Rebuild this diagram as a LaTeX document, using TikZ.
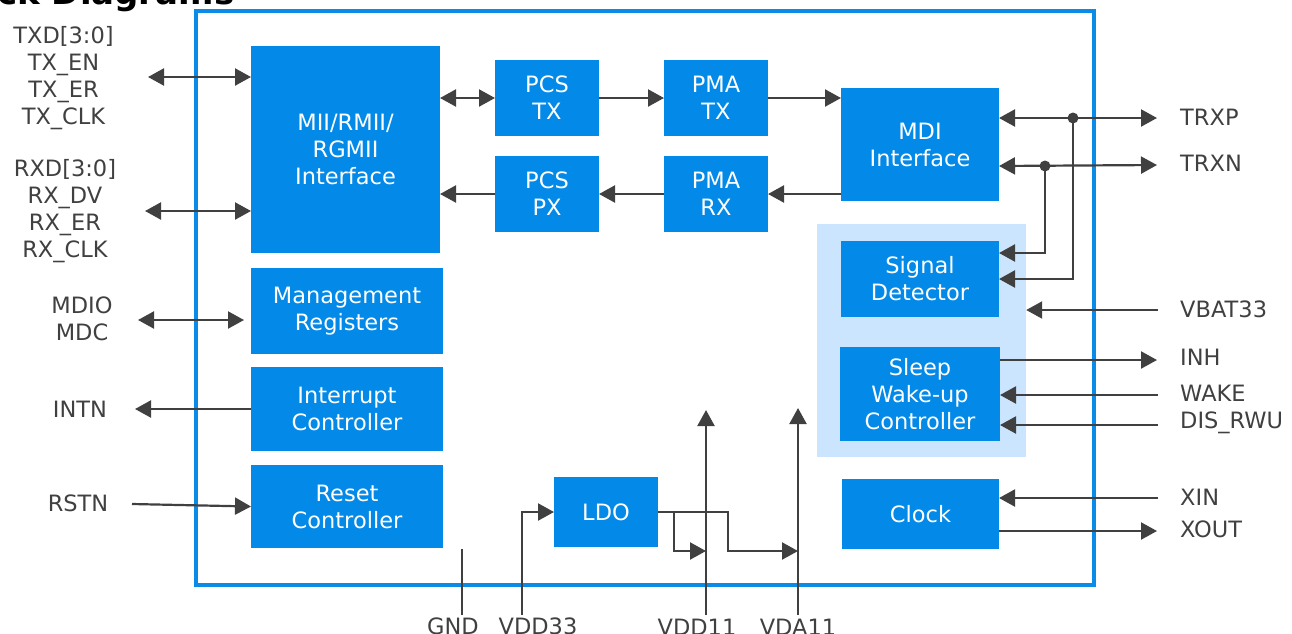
\documentclass[tikz,border=0pt]{standalone}
\usepackage{fontspec}
\setmainfont{DejaVu Sans}
\usetikzlibrary{arrows.meta}
\definecolor{blk}{HTML}{0389E8}
\definecolor{frame}{HTML}{0A8BE8}
\definecolor{lite}{HTML}{CCE5FF}
\definecolor{ln}{HTML}{404040}
\tikzset{
  blkbox/.style={fill=blk, draw=none, inner sep=0pt, outer sep=0pt, text=white, align=center,
    font=\fontsize{22.5}{27}\selectfont},
  lbl/.style={text=ln, align=center, inner sep=0pt, font=\fontsize{22.5}{27}\selectfont},
  wire/.style={draw=ln, line width=2.2pt},
  arr/.style={wire, -{Triangle[length=16pt,width=17pt]}},
  biarr/.style={wire, {Triangle[length=16pt,width=17pt]}-{Triangle[length=16pt,width=17pt]}},
}
\begin{document}
\begin{tikzpicture}[x=1pt,y=-1pt]
\useasboundingbox (0,0) rectangle (1292,633);
\clip (0,0) rectangle (1292,633);
% title
\node[anchor=base west, inner sep=0pt, font=\fontsize{34}{38}\bfseries\selectfont] (title) at (-3,4) {ck Diagrams};
% frame
\draw[frame, line width=4pt] (196,11) rectangle (1094,585);
% light region
\node[fill=lite, draw=none, inner sep=0pt, minimum width=209pt, minimum height=233pt] (light) at (921.5,340.5) {};
% blocks
\node[blkbox, minimum width=189pt, minimum height=207pt] (mii) at (345.5,149.5) {MII/RMII/\\RGMII\\Interface};
\node[blkbox, minimum width=192pt, minimum height=86pt] (mgmt) at (347,311) {Management\\Registers};
\node[blkbox, minimum width=192pt, minimum height=84pt] (intc) at (347,409) {Interrupt\\Controller};
\node[blkbox, minimum width=192pt, minimum height=83pt] (rstc) at (347,506.5) {Reset\\Controller};
\node[blkbox, minimum width=104pt, minimum height=76pt] (pcstx) at (547,98) {PCS\\TX};
\node[blkbox, minimum width=104pt, minimum height=76pt] (pcsrx) at (547,194) {PCS\\PX};
\node[blkbox, minimum width=104pt, minimum height=76pt] (pmatx) at (716,98) {PMA\\TX};
\node[blkbox, minimum width=104pt, minimum height=76pt] (pmarx) at (716,194) {PMA\\RX};
\node[blkbox, minimum width=158pt, minimum height=113pt] (mdi) at (920,144.5) {MDI\\Interface};
\node[blkbox, minimum width=158pt, minimum height=76pt] (sig) at (920,279) {Signal\\Detector};
\node[blkbox, minimum width=160pt, minimum height=94pt] (sleep) at (920,394) {Sleep\\Wake-up\\Controller};
\node[blkbox, minimum width=157pt, minimum height=70pt] (clock) at (920.5,514) {Clock};
\node[blkbox, minimum width=104pt, minimum height=70pt] (ldo) at (606,512) {LDO};
% left labels
\node[lbl] (ltx) at (63.5,78) {TXD[3:0]\\TX\_EN\\TX\_ER\\TX\_CLK};
\node[lbl] (lrx) at (65,211) {RXD[3:0]\\RX\_DV\\RX\_ER\\RX\_CLK};
\node[lbl] (lmd) at (82,319) {MDIO\\MDC};
\node[lbl] (lint) at (80,409) {INTN};
\node[lbl] (lrst) at (78,503) {RSTN};
% right labels
\node[lbl, anchor=west] (ltrxp) at (1180,117) {TRXP};
\node[lbl, anchor=west] (ltrxn) at (1180,163) {TRXN};
\node[lbl, anchor=west] (lvbat) at (1180,309) {VBAT33};
\node[lbl, anchor=west] (linh) at (1180,357) {INH};
\node[lbl, anchor=west] (lwake) at (1180,393) {WAKE};
\node[lbl, anchor=west] (ldis) at (1180,423) {DIS\_RWU};
\node[lbl, anchor=west] (lxin) at (1180,497) {XIN};
\node[lbl, anchor=west] (lxout) at (1180,529) {XOUT};
% bottom labels
\node[lbl, anchor=base] (lgnd) at (453,634) {GND};
\node[lbl, anchor=base] (lv33) at (538,634) {VDD33};
\node[lbl, anchor=base] (lv11) at (697,635) {VDD11};
\node[lbl, anchor=base] (lva11) at (798,635) {VDA11};
% coordinates
\coordinate (txl) at (148,77);
\coordinate (rxl) at (145,211);
\coordinate (mdl) at (138,320);
\coordinate (mdr) at (244,320);
\coordinate (intl) at (135,409);
\coordinate (rsl) at (132,504);
\coordinate (trxp) at (1157,118);
\coordinate (dp) at (1073,118);
\coordinate (trxn) at (1157,165);
\coordinate (dn) at (1045,166);
\coordinate (vb) at (1158,310);
\coordinate (inh) at (1157,360);
\coordinate (wk) at (1158,395);
\coordinate (dis) at (1158,425);
\coordinate (xin) at (1158,498);
\coordinate (xout) at (1157,531);
\coordinate (gndb) at (462,615);
\coordinate (gndt) at (462,549);
\coordinate (v33) at (522,615);
\coordinate (v11b) at (706,615);
\coordinate (v11t) at (706,410);
\coordinate (va11b) at (798,615);
\coordinate (va11t) at (798,408);
\coordinate (ja) at (674,512);
\coordinate (jb) at (728,512);
% left connectors
\draw[biarr] (txl) -- (txl -| mii.west);
\draw[biarr] (rxl) -- (rxl -| mii.west);
\draw[biarr] (mdl) -- (mdr);
\draw[arr] (intc.west) -- (intl);
\draw[arr] (rsl) -- (rstc.west);
% datapath
\draw[biarr] (pcstx.west -| mii.east) -- (pcstx.west);
\draw[arr] (pcstx) -- (pmatx);
\draw[arr] (pmatx.east) -- (pmatx.east -| mdi.west);
\draw[arr] (mdi.west |- pmarx) -- (pmarx.east);
\draw[arr] (pmarx) -- (pcsrx);
\draw[arr] (pcsrx.west) -- (pcsrx.west -| mii.east);
% TRX
\draw[biarr] (mdi.east |- trxp) -- (trxp);
\draw[biarr] (mdi.east |- dn) -- (trxn);
\draw[arr] (dp) |- (sig.east);
\draw[arr] (dn) |- ([yshift=26pt]sig.east);
\fill[ln] (dp) circle (5.5);
\fill[ln] (dn) circle (5.5);
% right side
\draw[arr] (vb) -- (vb -| light.east);
\draw[arr] (sleep.east |- inh) -- (inh);
\draw[arr] (wk) -- (wk -| sleep.east);
\draw[arr] (dis) -- (dis -| sleep.east);
\draw[arr] (xin) -- (xin -| clock.east);
\draw[arr] (clock.east |- xout) -- (xout);
% power
\draw[wire, line width=1.8pt] (gndb) -- (gndt);
\draw[arr] (v33) |- (ldo.west);
\draw[arr] (v11b) -- (v11t);
\draw[arr] (va11b) -- (va11t);
\draw[arr] (ldo.east) -- (jb) |- (va11b |- 0,551);
\draw[arr] (ja) |- (v11b |- 0,551);
\end{tikzpicture}
\end{document}
